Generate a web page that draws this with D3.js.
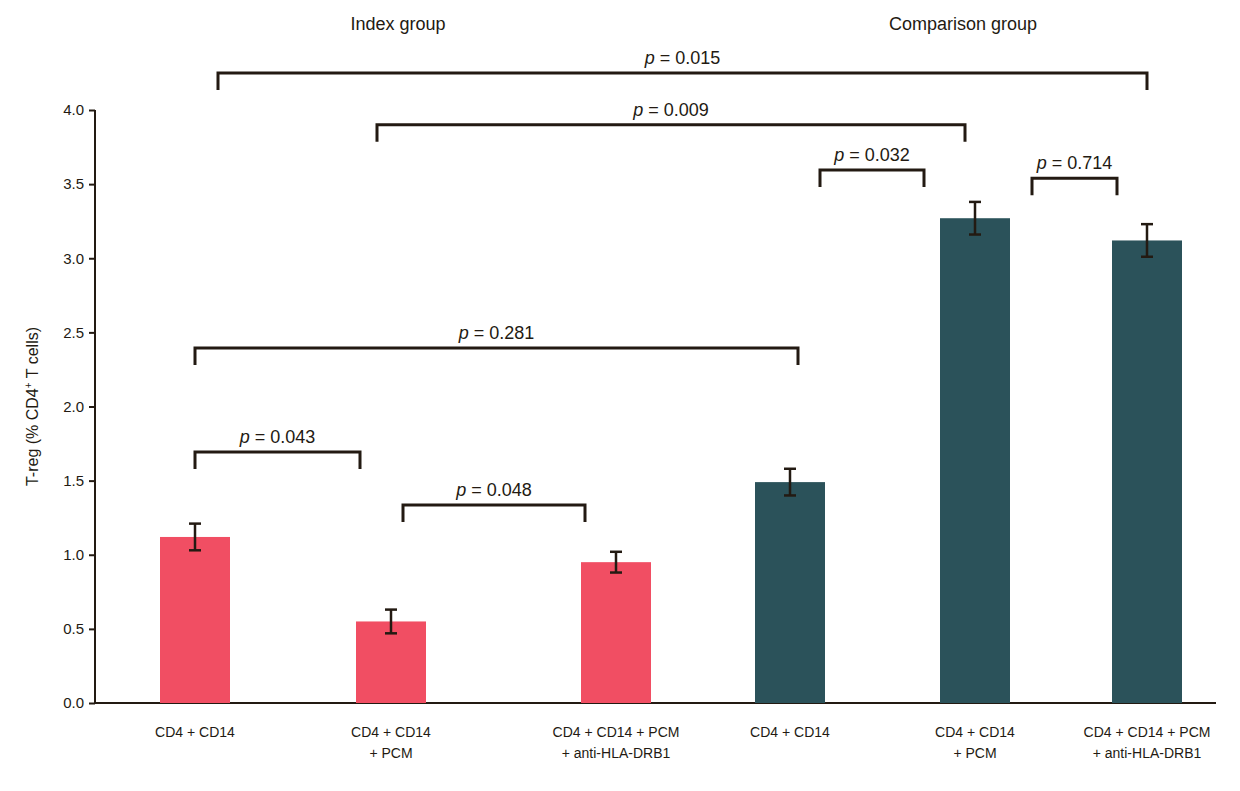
<!DOCTYPE html>
<html><head><meta charset="utf-8">
<script src="https://cdn.jsdelivr.net/npm/d3@7"></script>
<style>body{margin:0;background:#fff}text{font-family:"Liberation Sans",Arial,sans-serif;fill:#231a12}</style>
</head><body><svg class="chart"></svg>
<script>
var width = 1240, height = 791;

var categories = [["CD4 + CD14"], ["CD4 + CD14", "+ PCM"], ["CD4 + CD14 + PCM", "+ anti-HLA-DRB1"],
                  ["CD4 + CD14"], ["CD4 + CD14", "+ PCM"], ["CD4 + CD14 + PCM", "+ anti-HLA-DRB1"]];
var barX = [195, 391, 616, 790, 975, 1147];   // category centres as drawn
var values = [1.12, 0.55, 0.95, 1.49, 3.27, 3.12];
var errors = [0.09, 0.08, 0.07, 0.09, 0.11, 0.11];
var groups = [0, 0, 0, 1, 1, 1];
var groupNames = ["Index group", "Comparison group"];
var yTicks = [0, 0.5, 1, 1.5, 2, 2.5, 3, 3.5, 4];

// brackets: left x, right x, level (data units), label
var brX1 = [218, 377, 820, 1032, 195, 195, 403];
var brX2 = [1147, 965, 924, 1117, 798, 360, 585];
var brY = [4.25, 3.90, 3.595, 3.54, 2.395, 1.693, 1.336];
var brP = ["0.015", "0.009", "0.032", "0.714", "0.281", "0.043", "0.048"];

var chart = d3.select(".chart").attr("width", width).attr("height", height);

var y_scale = d3.scaleLinear().domain([0, 4]).range([703, 110]);
var x_scale = d3.scaleLinear().domain([0, width]).range([0, width]);
var colors = ["#f14e63", "#2b525a"];
var ink = "#231a12";

// y axis
var y_axis = d3.axisLeft().scale(y_scale).tickValues(yTicks).tickFormat(d3.format(".1f")).tickSize(6);
var ga = chart.append("g").attr("transform", "translate(95,0)").call(y_axis);
ga.selectAll("path,line").attr("stroke", ink).attr("stroke-width", 2);
ga.selectAll("text").style("font-size", "15px").attr("dx", "-2");
ga.select(".domain").attr("d", "M0," + y_scale(4) + "V" + y_scale(0));

chart.append("line").attr("x1", 95).attr("x2", 1216)
    .attr("y1", y_scale(0)).attr("y2", y_scale(0)).attr("stroke", ink).attr("stroke-width", 2);

chart.append("text").attr("transform", "translate(38," + y_scale(2) + ") rotate(-90)")
    .attr("text-anchor", "middle").style("font-size", "16px")
    .html('T-reg (% CD4<tspan dy="-6" font-size="10">+</tspan><tspan dy="6"> T cells)</tspan>');

// bars
var bw = 70;
chart.selectAll(".bar").data(values).enter().append("rect")
    .attr("x", (d, i) => x_scale(barX[i]) - bw / 2).attr("width", bw)
    .attr("y", d => y_scale(d)).attr("height", d => y_scale(0) - y_scale(d))
    .attr("fill", (d, i) => colors[groups[i]]);

// error bars
values.forEach(function (v, i) {
  var cx = x_scale(barX[i]), lo = y_scale(v - errors[i]), hi = y_scale(v + errors[i]);
  var g = chart.append("g").attr("stroke", ink).attr("stroke-width", 2.5);
  g.append("line").attr("x1", cx).attr("x2", cx).attr("y1", lo).attr("y2", hi);
  g.append("line").attr("x1", cx - 6).attr("x2", cx + 6).attr("y1", lo).attr("y2", lo);
  g.append("line").attr("x1", cx - 6).attr("x2", cx + 6).attr("y1", hi).attr("y2", hi);
});

// category labels
categories.forEach(function (lines, i) {
  var t = chart.append("text").attr("text-anchor", "middle").style("font-size", "14px");
  lines.forEach(function (l, j) {
    t.append("tspan").attr("x", x_scale(barX[i])).attr("y", 737 + j * 21).text(l);
  });
});

// group titles
chart.append("text").attr("x", 398).attr("y", 30).attr("text-anchor", "middle").style("font-size", "18px").text(groupNames[0]);
chart.append("text").attr("x", 963).attr("y", 30).attr("text-anchor", "middle").style("font-size", "18px").text(groupNames[1]);

// brackets
brY.forEach(function (b, i) {
  var x1 = x_scale(brX1[i]), x2 = x_scale(brX2[i]), yy = y_scale(b), drop = 17;
  chart.append("path").attr("fill", "none").attr("stroke", ink).attr("stroke-width", 3)
    .attr("d", "M" + x1 + "," + (yy + drop) + "V" + yy + "H" + x2 + "V" + (yy + drop));
  chart.append("text").attr("x", (x1 + x2) / 2).attr("y", yy - 9).attr("text-anchor", "middle")
    .style("font-size", "18px")
    .html('<tspan font-style="italic">p</tspan> = ' + brP[i]);
});
</script></body></html>
